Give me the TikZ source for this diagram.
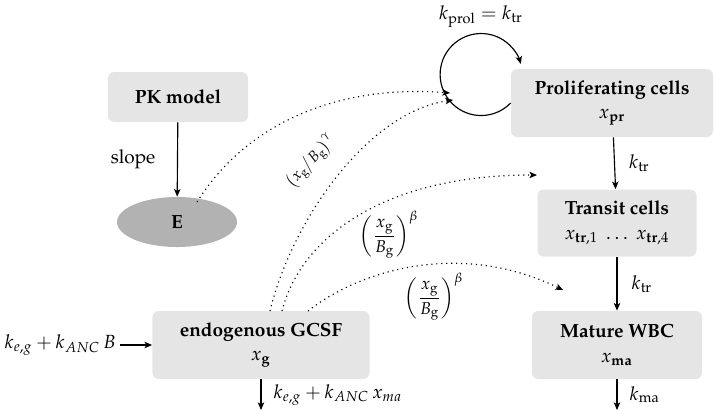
\documentclass[tikz,border=0pt]{standalone}
\usepackage[T1]{fontenc}
\usepackage{amsmath}
\usepackage{mathpazo}
\usetikzlibrary{shapes.geometric,arrows.meta}
\def\px{0.525pt}
\begin{document}
\begin{tikzpicture}[x=\px,y=-\px,
  box/.style={fill=black!10, rounded corners=3.3pt, align=center, font=\bfseries, inner sep=0pt},
  tip/.style={-{Stealth[length=4pt, width=3.4pt, inset=1pt]}},
  arr/.style={tip, line width=0.6pt},
  dot/.style={tip, dotted, line width=0.6pt},
  lab/.style={inner sep=2pt},
  slab/.style={inner sep=1pt, font=\footnotesize},
  blab/.style={inner sep=1pt, font=\small}]
\useasboundingbox (0,0) rectangle (714,414);
% nodes
\node[box, minimum width=140*\px, minimum height=50*\px] (pk) at (178,97) {PK model};
\node[ellipse, fill=black!30, minimum width=120*\px, minimum height=50*\px, font=\bfseries, inner sep=0pt] (E) at (177,222) {E};
\node[box, minimum width=202*\px, minimum height=68*\px] (prol) at (612,103) {Proliferating cells\\[1pt] $x_{\mathbf{pr}}$};
\node[box, minimum width=159*\px, minimum height=67*\px] (trans) at (617,223) {Transit cells\\[1pt] $x_{\mathbf{tr},1}\ \ldots\ x_{\mathbf{tr},4}$};
\node[box, minimum width=170*\px, minimum height=68*\px] (mat) at (617,345) {Mature WBC\\[1pt] $x_{\mathbf{ma}}$};
\node[box, minimum width=217*\px, minimum height=68*\px] (gcsf) at (261,345) {endogenous GCSF\\[1pt] $x_{\mathbf{g}}$};
\node[lab, anchor=east] (inlab) at (120,345) {$k_{e,g} + k_{ANC}\,B$};
\node[lab] (prollab) at (481,17) {$k_{\mathrm{prol}} = k_{\mathrm{tr}}$};
\coordinate (matout) at (617,410);
\coordinate (gout) at (261,410);
\coordinate (t1) at (450,93);
\coordinate (t2) at (453,100);
\coordinate (t3) at (537,175);
\coordinate (t4) at (563,290);
\coordinate (s1) at (197,202);
\coordinate (s2) at (270,311);
\coordinate (s3) at (282,311);
\coordinate (s4) at (308,311);
% solid arrows
\draw[arr] (pk) -- (E) node[midway, left, xshift=-8pt] {slope};
\draw[arr] (prol) -- (trans) node[midway, right, xshift=4pt] {$k_{\mathrm{tr}}$};
\draw[arr] (trans) -- (mat) node[midway, right, xshift=4pt] {$k_{\mathrm{tr}}$};
\draw[arr] (mat) -- (matout) node[midway, right, xshift=3pt] {$k_{\mathrm{ma}}$};
\draw[arr] (gcsf) -- (gout) node[midway, right, xshift=3pt] {$k_{e,g} + k_{ANC}\,x_{ma}$};
\draw[arr] (inlab) -- (gcsf);
\draw[arr] (prol.west) arc[start angle=44, end angle=345, radius=41];
% dotted arrows
\draw[dot] (s1) .. controls (252,115) and (350,85) .. (t1);
\draw[dot] (s2) .. controls (292,220) and (368,112) .. (t2);
\draw[dot] (s3) .. controls (300,240) and (380,175) .. (t3);
\draw[dot] (s4) .. controls (360,270) and (460,240) .. (t4);
% labels on dotted arrows
\node[slab, rotate=47] (gam) at (311,161) {$\bigl(x_{\mathrm{g}}\big/B_{\mathrm{g}}\bigr)^{\gamma}$};
\node[blab] (beta1) at (389,235) {$\left(\dfrac{x_{\mathrm{g}}}{B_{\mathrm{g}}}\right)^{\beta}$};
\node[blab] (beta2) at (434,297) {$\left(\dfrac{x_{\mathrm{g}}}{B_{\mathrm{g}}}\right)^{\beta}$};
\end{tikzpicture}
\end{document}
